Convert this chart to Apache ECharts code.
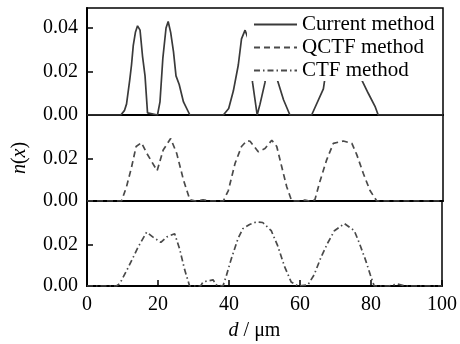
<!DOCTYPE html>
<html>
<head>
<meta charset="utf-8">
<script src="https://cdn.jsdelivr.net/npm/echarts@6/dist/echarts.min.js"></script>
<style>
  html, body { margin: 0; padding: 0; background: #fff; }
  #box { width: 460px; height: 344px; }
</style>
</head>
<body>
<div id="box"></div>
<script>
// x positions (d / um) and n(x) values
var curX = [0, 9.5, 10.5, 11.1, 12.0, 12.5, 13.0, 13.6, 14.2, 14.9, 15.6, 16.3, 17.0, 19.8, 20.5, 21.3, 22.2, 22.8, 23.5, 24.3, 25.0, 25.9, 27.1, 28.9,
  38.3, 39.8, 41.1, 42.5, 43.4, 44.4, 45.3, 46.0, 46.5, 47.8, 48.6, 50.0, 51.0, 52.0, 53.0, 53.5, 55.2, 57.0, 63.1, 66.4, 68.0, 70.0, 72.0, 74.0, 76.0, 77.2, 79.0, 80.9, 81.8, 100];
var curY = [0, 0, 0.002, 0.005, 0.016, 0.023, 0.032, 0.038, 0.041, 0.039, 0.027, 0.018, 0.001, 0, 0.006, 0.026, 0.040, 0.043, 0.038, 0.029, 0.018, 0.014, 0.006, 0,
  0, 0.003, 0.011, 0.023, 0.035, 0.039, 0.035, 0.024, 0.015, 0, 0.005, 0.015, 0.035, 0.040, 0.030, 0.016, 0.007, 0, 0, 0.012, 0.030, 0.040, 0.042, 0.038, 0.025, 0.016, 0.010, 0.004, 0, 0];

var qctfX = [0, 9.7, 11.1, 12.5, 13.8, 15.3, 16.8, 19.7, 21.4, 23.5, 25.2, 27.1, 28.9, 30.5, 32.6, 34.5, 38.3, 39.7, 41.6, 43.4, 44.9, 45.8, 48.1, 50.0, 51.9, 53.3, 54.7, 56.1, 57.5,
  59.5, 61.2, 62.5, 64.0, 65.4, 67.3, 69.2, 72.0, 74.4, 75.8, 77.6, 79.5, 81.4, 100];
var qctfY = [0, 0, 0.0068, 0.016, 0.026, 0.0278, 0.0227, 0.0144, 0.0243, 0.0298, 0.0227, 0.010, 0.0006, 0, 0.0006, 0, 0, 0.005, 0.018, 0.026, 0.0287, 0.0285, 0.0235, 0.025, 0.029, 0.026, 0.0163, 0.0068, 0,
  0, 0.0004, 0, 0.0005, 0.0092, 0.0195, 0.0275, 0.0286, 0.0275, 0.022, 0.0132, 0.005, 0, 0];

var ctfX = [0, 8.3, 9.3, 11.6, 14.4, 16.8, 18.5, 20.8, 22.5, 24.7, 26.1, 27.5, 28.9, 32.0, 32.7, 35.5, 36.5, 38.3, 39.2, 40.6, 42.5, 43.9, 45.8, 47.7, 49.5, 51.9, 53.7, 55.6, 57.5, 59.4,
  62.2, 64.0, 65.9, 67.8, 69.7, 72.5, 75.3, 76.7, 78.4, 79.8, 80.9, 85.0, 87.5, 89.5, 100];
var ctfY = [0, 0, 0.0013, 0.009, 0.019, 0.0263, 0.024, 0.0213, 0.024, 0.0255, 0.018, 0.008, 0, 0, 0.002, 0.003, 0.0005, 0, 0.0047, 0.013, 0.023, 0.028, 0.030, 0.0313, 0.031, 0.027, 0.0197, 0.0097, 0.002, 0,
  0.0005, 0.0055, 0.014, 0.021, 0.027, 0.0305, 0.027, 0.021, 0.013, 0.0055, 0, 0, 0.001, 0, 0];

var names = ['Current method', 'QCTF method', 'CTF method'];

function pairs(xs, ys) {
  var out = [];
  for (var i = 0; i < xs.length; i++) out.push([xs[i], ys[i]]);
  return out;
}

var font = 'Liberation Serif';
var black = '#000';
var fs = 20;

function xAx(idx, showLabels) {
  return {
    gridIndex: idx, type: 'value', min: 0, max: 100, interval: 20,
    axisLine: { lineStyle: { color: black, width: 2 } },
    axisTick: { show: showLabels, inside: true, length: 6, lineStyle: { color: black, width: 1.5 } },
    axisLabel: { show: showLabels, color: black, fontFamily: font, fontSize: fs, margin: 9 },
    splitLine: { show: false },
    name: showLabels ? '{i|d} / μm' : '',
    nameLocation: 'middle', nameGap: 35,
    nameTextStyle: { color: black, fontFamily: font, fontSize: fs, padding: [0, 20, 0, 0],
      rich: { i: { fontStyle: 'italic', fontFamily: font, fontSize: fs, color: black } } }
  };
}

function yAx(idx, max, ticks, withName) {
  return {
    gridIndex: idx, type: 'value', min: 0, max: max,
    axisLine: { show: true, lineStyle: { color: black, width: 2 } },
    axisTick: { show: true, inside: true, length: 6, customValues: ticks, lineStyle: { color: black, width: 1.5 } },
    axisLabel: { color: black, fontFamily: font, fontSize: fs, margin: 9, customValues: ticks,
      formatter: function (v) { return v.toFixed(2); } },
    splitLine: { show: false },
    name: withName ? '{i|n}({i|x})' : '',
    nameLocation: 'middle', nameGap: 57, nameRotate: 90,
    nameTextStyle: { color: black, fontFamily: font, fontSize: fs,
      rich: { i: { fontStyle: 'italic', fontFamily: font, fontSize: fs, color: black } } }
  };
}

var gridBase = { left: 87, right: 17, show: true, borderColor: black, borderWidth: 1.5, backgroundColor: 'transparent' };

var option = {
  animation: false,
  backgroundColor: '#fff',
  grid: [
    Object.assign({ top: 8, height: 107 }, gridBase),
    Object.assign({ top: 115, height: 86 }, gridBase),
    Object.assign({ top: 201, height: 85 }, gridBase)
  ],
  xAxis: [xAx(0, false), xAx(1, false), xAx(2, true)],
  yAxis: [
    yAx(0, 0.0492, [0, 0.02, 0.04], false),
    yAx(1, 0.041, [0, 0.02], true),
    yAx(2, 0.0415, [0, 0.02], false)
  ],
  legend: {
    orient: 'vertical', left: 247, top: 11,
    padding: [3, 6, 0, 6],
    backgroundColor: '#fff',
    itemWidth: 43, itemHeight: 14, itemGap: 2,
    itemStyle: { opacity: 0 },
    textStyle: { color: black, fontFamily: font, fontSize: 21 },
    data: names
  },
  series: [
    { name: names[0], type: 'line', xAxisIndex: 0, yAxisIndex: 0, symbol: 'none',
      data: pairs(curX, curY), color: '#3a3a3a',
      lineStyle: { color: '#3a3a3a', width: 1.7 } },
    { name: names[1], type: 'line', xAxisIndex: 1, yAxisIndex: 1, symbol: 'none',
      data: pairs(qctfX, qctfY), color: '#4a4a4a',
      lineStyle: { color: '#4a4a4a', width: 1.7, type: [6, 4] } },
    { name: names[2], type: 'line', xAxisIndex: 2, yAxisIndex: 2, symbol: 'none',
      data: pairs(ctfX, ctfY), color: '#4a4a4a',
      lineStyle: { color: '#4a4a4a', width: 1.7, type: [6, 3, 1.5, 3] } }
  ]
};

var chart = echarts.init(document.getElementById('box'));
chart.setOption(option);
</script>
</body>
</html>
